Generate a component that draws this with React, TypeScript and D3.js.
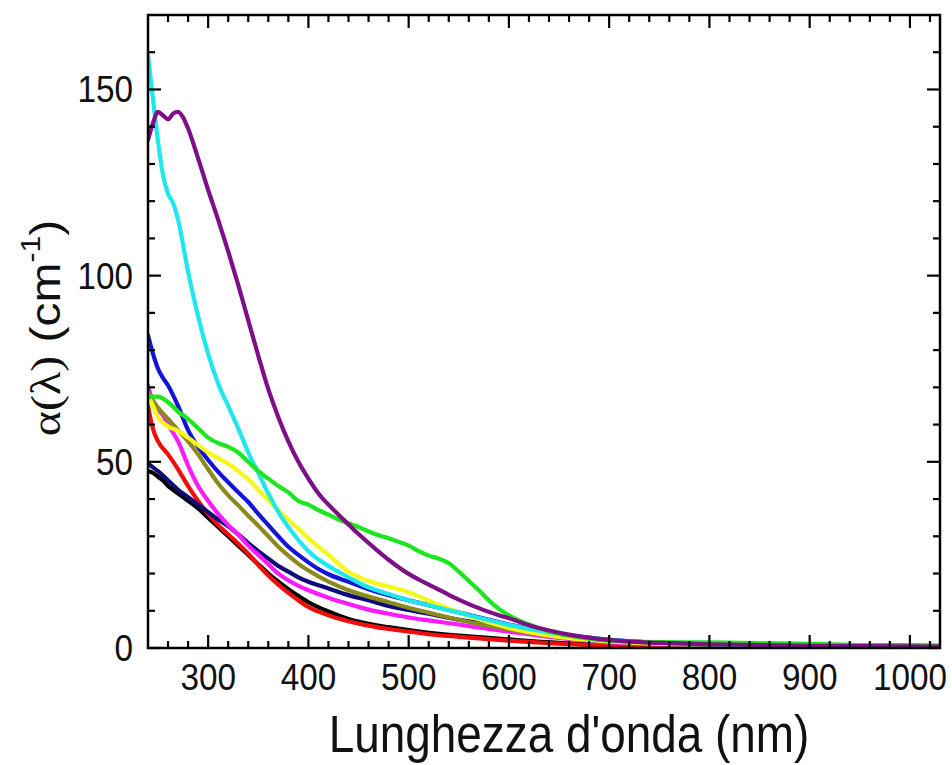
import React from "react";
import * as d3 from "d3";

// ---- data: [wavelength nm, alpha cm^-1] ----
const purple: [number, number][] = [
  [240, 136.5], [245, 141], [250, 144], [255, 143], [260, 142], [265, 143.5], [270, 144], [275, 142.5],
  [280, 139.5], [290, 131.5], [300, 123], [310, 115], [320, 106.5], [330, 97.5], [340, 88], [350, 78.5],
  [360, 69.5], [370, 62], [380, 55.5], [390, 50], [400, 45.5], [410, 41.5], [420, 38.5], [430, 35.8],
  [440, 33.2], [450, 30.6], [460, 28.2], [470, 25.9], [480, 23.7], [490, 21.7], [500, 19.9], [510, 18.4],
  [520, 17], [530, 15.7], [540, 14.3], [550, 13], [560, 11.8], [570, 10.7], [580, 9.7], [590, 8.8],
  [600, 8.0], [620, 6.1], [640, 4.7], [660, 3.6], [680, 2.8], [700, 2.2], [730, 1.6], [760, 1.3],
  [800, 1.0], [850, 0.8], [900, 0.6], [950, 0.5], [1030, 0.4],
];
const cyan: [number, number][] = [
  [240, 159], [243, 152], [246, 145], [250, 136], [255, 127], [260, 122], [265, 119.5], [270, 115],
  [280, 101], [290, 89], [300, 79], [310, 71], [320, 65], [330, 59], [340, 52.5], [350, 47],
  [360, 41.5], [370, 36.5], [380, 32.5], [390, 29], [400, 26], [420, 22], [440, 19], [460, 16.3],
  [480, 14.5], [500, 12.8], [520, 11.5], [550, 9.5], [575, 7.8], [600, 6.2], [650, 3.8], [700, 2.2],
  [750, 1.4], [800, 1.0], [900, 0.7], [1030, 0.5],
];
const blue: [number, number][] = [
  [240, 84], [245, 79], [250, 75], [255, 72.5], [260, 70.5], [270, 65], [280, 58.5], [290, 54],
  [300, 50.5], [310, 47.3], [320, 44.5], [330, 41.8], [340, 39.2], [350, 36], [360, 33], [370, 30],
  [380, 27.2], [390, 25], [400, 23], [410, 21.2], [420, 19.8], [440, 17.8], [460, 15.8], [480, 14.2],
  [500, 12.8], [520, 11.5], [550, 9.6], [575, 7.9], [600, 6.3], [650, 3.8], [700, 2.2], [750, 1.4],
  [800, 1.0], [900, 0.7], [1030, 0.5],
];
const green: [number, number][] = [
  [240, 67.5], [250, 67.5], [260, 66], [270, 63.5], [280, 61.5], [290, 59], [300, 56.5], [310, 55],
  [320, 54], [330, 52.5], [340, 50], [350, 47.5], [360, 45.5], [370, 43.5], [380, 41.8], [390, 39.5],
  [400, 38.5], [410, 37], [420, 35.8], [430, 34.5], [440, 33.5], [450, 32.5], [460, 31.3], [470, 30.3],
  [480, 29.5], [490, 28.5], [500, 27.5], [510, 26], [520, 24.8], [530, 24], [540, 22.8], [550, 20.5],
  [560, 18], [570, 15.5], [580, 12.8], [590, 10.5], [600, 8.8], [620, 6.3], [640, 4.5], [660, 3.3],
  [680, 2.5], [700, 2.0], [750, 1.6], [800, 1.5], [850, 1.3], [900, 1.1], [950, 0.8], [1030, 0.5],
];
const magenta: [number, number][] = [
  [240, 70.5], [245, 66], [250, 64], [255, 62.5], [260, 60], [270, 55.5], [280, 49], [290, 43.5],
  [300, 39.5], [310, 36], [320, 33], [330, 30.5], [340, 27.5], [350, 25], [360, 22.5], [370, 20],
  [380, 18.2], [390, 16.7], [400, 15.5], [420, 13.5], [440, 11.8], [460, 10.3], [480, 9.2], [500, 8.2],
  [520, 7.4], [550, 6.3], [575, 5.3], [600, 4.4], [650, 2.7], [700, 1.6], [750, 1.0], [800, 0.7],
  [900, 0.5], [1030, 0.4],
];
const red: [number, number][] = [
  [240, 65], [243, 61], [246, 58], [250, 55.5], [260, 52], [270, 48], [280, 43.5], [290, 39.5],
  [300, 36], [310, 33], [320, 30.5], [330, 28], [340, 25.3], [350, 22.3], [360, 19.5], [370, 17],
  [380, 14.8], [390, 12.8], [400, 11], [420, 8.8], [440, 7.2], [460, 6.0], [480, 5.1], [500, 4.4],
  [520, 3.7], [550, 3.0], [600, 2.0], [650, 1.2], [700, 0.7], [800, 0.3], [1030, 0.2],
];
const black: [number, number][] = [
  [240, 47.5], [245, 47], [250, 46], [255, 45], [260, 43.5], [265, 42.5], [270, 41.5], [280, 39.5],
  [290, 37.5], [300, 35], [310, 32.5], [320, 30], [330, 27.5], [340, 25], [350, 22.5], [360, 20],
  [370, 17.8], [380, 15.8], [390, 14], [400, 12.3], [420, 9.8], [440, 7.8], [460, 6.5], [480, 5.6],
  [500, 4.8], [520, 4.1], [550, 3.3], [600, 2.3], [650, 1.4], [700, 0.8], [800, 0.4], [1030, 0.2],
];
const navy: [number, number][] = [
  [240, 49.5], [245, 48.5], [250, 47.5], [260, 45], [270, 42.5], [280, 40.5], [290, 38.5], [300, 36.5],
  [310, 34.5], [320, 32.7], [330, 30.5], [340, 28.2], [350, 26], [360, 24], [370, 22], [380, 20.5],
  [390, 19], [400, 17.8], [420, 16], [440, 14.2], [460, 12.8], [480, 11.3], [500, 10.2], [520, 9.2],
  [550, 7.6], [575, 6.6], [600, 5.6], [650, 3.6], [700, 2.1], [750, 1.4], [800, 1.1], [900, 0.8],
  [1030, 0.6],
];
const yellow: [number, number][] = [
  [240, 68], [245, 65], [250, 62], [260, 59.5], [270, 58.3], [280, 56.5], [290, 54.5], [300, 52.5],
  [310, 51], [320, 49.5], [330, 47.5], [340, 45.3], [350, 42.5], [360, 39.7], [370, 37], [380, 34.5],
  [390, 32], [400, 29.5], [410, 27.2], [420, 25], [440, 20.5], [460, 18], [480, 16.5], [500, 15],
  [520, 12.7], [540, 10.6], [560, 8.6], [580, 6.9], [600, 5.4], [650, 3.0], [700, 1.8], [750, 1.2],
  [800, 0.9], [900, 0.6], [1030, 0.5],
];
const olive: [number, number][] = [
  [240, 68.5], [250, 64.5], [260, 61.5], [270, 58.5], [280, 55.5], [290, 52], [300, 48], [310, 44.2],
  [320, 41], [330, 38.3], [340, 35.5], [350, 32.8], [360, 30], [370, 27.2], [380, 24.8], [390, 22.6],
  [400, 20.8], [420, 17.8], [440, 15.5], [460, 13.8], [480, 12.3], [500, 10.8], [520, 9.5], [550, 7.6],
  [575, 6.2], [600, 5.0], [650, 3.0], [700, 1.8], [750, 1.1], [800, 0.8], [900, 0.5], [1030, 0.4],
];

const seriesList = [
  { name: "black", data: black, color: "#000000" },
  { name: "red", data: red, color: "#f20d0d" },
  { name: "navy", data: navy, color: "#0c0c78" },
  { name: "magenta", data: magenta, color: "#ff1aff" },
  { name: "olive", data: olive, color: "#8a8a1e" },
  { name: "blue", data: blue, color: "#1414d8" },
  { name: "yellow", data: yellow, color: "#f7f71a" },
  { name: "cyan", data: cyan, color: "#1ee8ee" },
  { name: "green", data: green, color: "#1ee61e" },
  { name: "purple", data: purple, color: "#7d0f87" },
];

const xMajorTicks = [300, 400, 500, 600, 700, 800, 900, 1000];
const xMinorTicks = d3.range(260, 1030, 20).filter((v) => v % 100 !== 0);
const yMajorTicks = [0, 50, 100, 150];
const yMinorTicks = d3.range(10, 170, 10).filter((v) => v % 50 !== 0);

const W = 952;
const H = 765;
const L = 148, R = 940, T = 15, B = 648;

export default function App() {
  const x = d3.scaleLinear().domain([240, 1030]).range([L, R]);
  const y = d3.scaleLinear().domain([0, 170]).range([B, T]);
  const line = d3
    .line<[number, number]>()
    .x((d) => x(d[0]))
    .y((d) => y(d[1]))
    .curve(d3.curveMonotoneX);

  const MAJ = 13, MIN = 7;
  const font = "'Liberation Sans', Arial, sans-serif";

  return (
    <svg
      width={W}
      height={H}
      style={{ position: "absolute", left: 0, top: 0, background: "#fff" }}
      fontFamily={font}
    >
      <rect x={0} y={0} width={W} height={H} fill="#fff" />
      <defs>
        <clipPath id="plot">
          <rect x={L} y={T} width={R - L} height={B - T} />
        </clipPath>
      </defs>
      <g clipPath="url(#plot)">
        {seriesList.map((s) => (
          <path
            key={s.name}
            d={line(s.data) || ""}
            fill="none"
            stroke={s.color}
            strokeWidth={4.2}
            strokeLinejoin="round"
            strokeLinecap="round"
          />
        ))}
      </g>
      {/* ticks */}
      <g stroke="#000" strokeWidth={2.2}>
        {xMajorTicks.map((t) => (
          <g key={"xM" + t}>
            <line x1={x(t)} x2={x(t)} y1={B} y2={B - MAJ} />
            <line x1={x(t)} x2={x(t)} y1={T} y2={T + MAJ} />
          </g>
        ))}
        {xMinorTicks.map((t) => (
          <g key={"xm" + t}>
            <line x1={x(t)} x2={x(t)} y1={B} y2={B - MIN} />
            <line x1={x(t)} x2={x(t)} y1={T} y2={T + MIN} />
          </g>
        ))}
        {yMajorTicks.map((t) => (
          <g key={"yM" + t}>
            <line x1={L} x2={L + MAJ} y1={y(t)} y2={y(t)} />
            <line x1={R} x2={R - MAJ} y1={y(t)} y2={y(t)} />
          </g>
        ))}
        {yMinorTicks.map((t) => (
          <g key={"ym" + t}>
            <line x1={L} x2={L + MIN} y1={y(t)} y2={y(t)} />
            <line x1={R} x2={R - MIN} y1={y(t)} y2={y(t)} />
          </g>
        ))}
      </g>
      <rect x={L} y={T} width={R - L} height={B - T} fill="none" stroke="#000" strokeWidth={2.5} />
      {/* tick labels */}
      {xMajorTicks.map((t) => (
        <text
          key={"xl" + t}
          transform={`translate(${x(t)},690) scale(0.9,1)`}
          textAnchor="middle"
          fontSize={37}
          fill="#111"
        >
          {t}
        </text>
      ))}
      {yMajorTicks.map((t) => (
        <text
          key={"yl" + t}
          transform={`translate(133,${y(t) + 13}) scale(0.9,1)`}
          textAnchor="end"
          fontSize={37}
          fill="#111"
        >
          {t}
        </text>
      ))}
      {/* axis titles */}
      <text
        transform={`translate(569,752) scale(0.9,1)`}
        textAnchor="middle"
        fontSize={51}
        fill="#111"
      >
        Lunghezza d'onda (nm)
      </text>
      <text
        transform={`translate(60,328) rotate(-90) scale(1,0.9)`}
        textAnchor="middle"
        fontSize={48}
        fill="#111"
      >
        <tspan fontFamily="'Liberation Serif', 'DejaVu Serif', serif">α(λ)</tspan>
        <tspan> (cm</tspan>
        <tspan fontSize={30} dy={-22}>-1</tspan>
        <tspan dy={22}>)</tspan>
      </text>
    </svg>
  );
}
